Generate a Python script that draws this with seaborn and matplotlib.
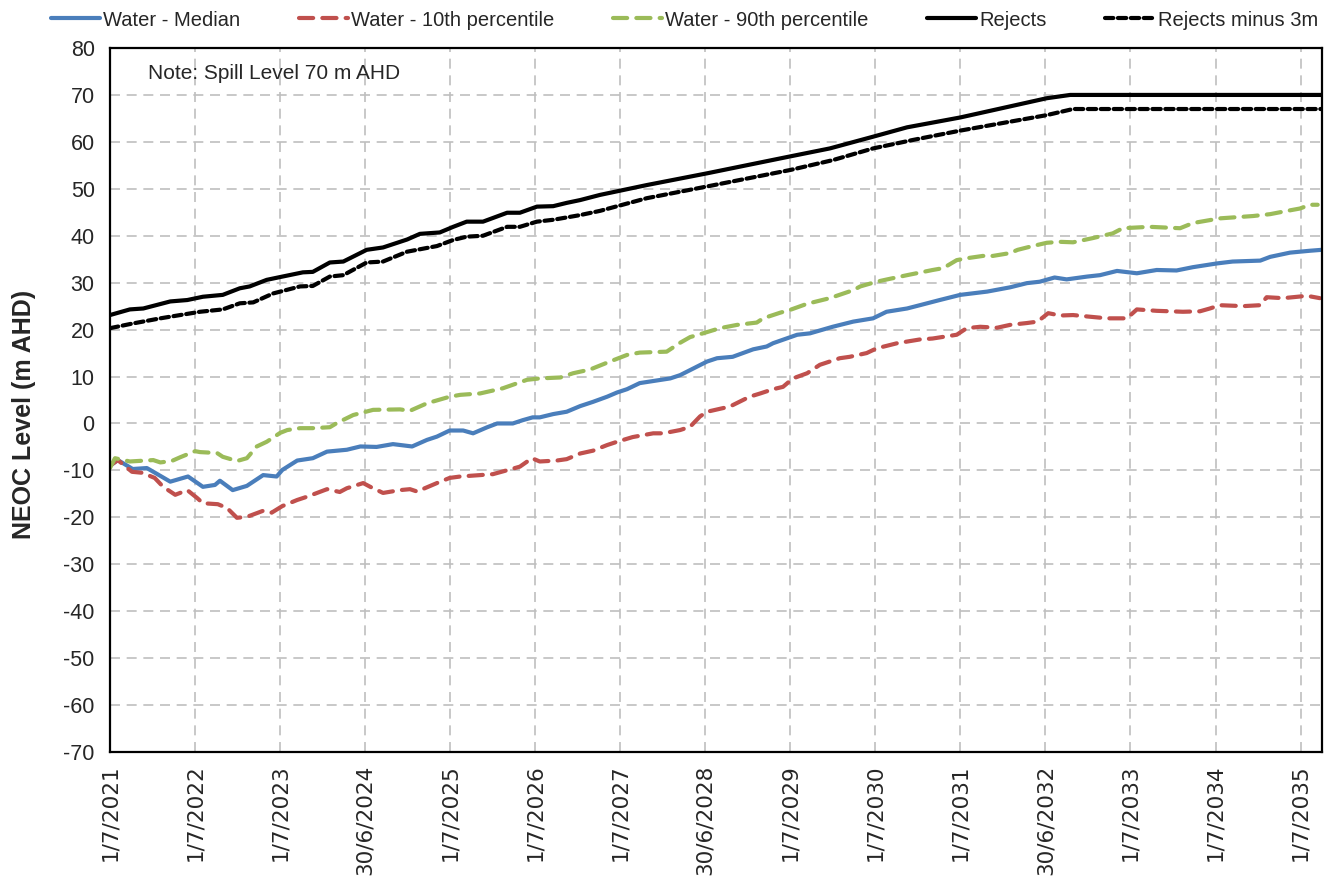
import pandas as pd
import numpy as np
import matplotlib
matplotlib.use('Agg')
import matplotlib.pyplot as plt
import seaborn as sns

# time axis: months after 1/7/2021
start = pd.Timestamp('2021-07-01')
end = pd.Timestamp('2035-09-28')

median_months = [0.0, 1.1, 3.2, 5.2, 8.5, 11.0, 13.1, 14.8, 15.5, 17.3, 19.3, 21.6, 23.5, 24.3,
                 26.4, 28.6, 30.6, 33.4, 35.3, 37.6, 39.9, 42.6, 44.7, 46.1, 47.9, 49.8, 51.2,
                 53.2, 54.6, 56.8, 58.2, 59.6, 60.6, 62.5, 64.4, 66.3, 68.1, 70.1, 71.5, 72.9,
                 74.7, 79.0, 80.4, 84.2, 85.6, 87.8, 90.7, 92.6, 93.5, 96.9, 98.7, 101.9, 104.8,
                 107.6, 109.5, 112.4, 114.2, 117.0, 119.9, 123.7, 126.9, 129.3, 131.1, 133.2,
                 134.9, 137.8, 139.6, 142.0, 144.8, 147.6, 150.4, 152.7, 156.1, 158.3, 162.2,
                 163.6, 166.4, 169.2, 170.9]
median_level = [-9.0, -7.8, -9.7, -9.5, -12.4, -11.3, -13.5, -13.1, -12.2, -14.2, -13.3, -11.0,
                -11.3, -9.9, -7.9, -7.4, -6.0, -5.6, -4.9, -5.0, -4.4, -4.9, -3.5, -2.8, -1.5,
                -1.5, -2.1, -0.8, 0.0, 0.0, 0.7, 1.3, 1.3, 2.0, 2.5, 3.7, 4.6, 5.7, 6.6, 7.3,
                8.6, 9.6, 10.3, 13.2, 13.9, 14.2, 15.8, 16.4, 17.1, 18.9, 19.2, 20.6, 21.7,
                22.4, 23.8, 24.5, 25.2, 26.3, 27.4, 28.1, 29.0, 29.9, 30.2, 31.1, 30.7, 31.3,
                31.6, 32.5, 32.0, 32.7, 32.6, 33.3, 34.1, 34.5, 34.7, 35.5, 36.4, 36.8, 37.0]

p10_months = [0.0, 1.1, 3.1, 4.5, 6.3, 7.5, 9.2, 10.9, 12.3, 13.1, 15.2, 16.5, 17.9, 19.3, 21.6,
              22.8, 24.3, 26.4, 27.8, 30.6, 32.4, 33.4, 35.7, 36.7, 38.5, 40.9, 42.3, 43.3,
              46.1, 47.9, 49.4, 52.2, 54.0, 56.4, 57.8, 59.5, 60.6, 63.0, 64.4, 66.3, 68.1,
              70.1, 71.5, 73.7, 76.6, 78.0, 80.4, 81.8, 83.2, 84.2, 87.4, 90.2, 91.7, 93.5,
              94.9, 96.3, 98.3, 100.1, 102.9, 104.3, 106.7, 108.1, 111.0, 114.2, 116.0, 119.4,
              120.8, 122.7, 125.1, 126.9, 129.3, 130.8, 132.3, 134.0, 135.8, 137.8, 140.6,
              143.4, 144.8, 147.6, 151.3, 153.7, 155.1, 156.5, 159.8, 162.2, 163.1, 165.4,
              166.8, 168.8, 170.6]
p10_level = [-9.0, -7.8, -10.3, -10.5, -11.6, -13.5, -15.2, -14.2, -15.9, -17.0, -17.2, -18.0,
             -20.1, -19.9, -18.6, -19.0, -17.6, -16.3, -15.6, -14.0, -14.6, -13.8, -12.7, -13.5,
             -14.8, -14.2, -14.0, -14.5, -12.7, -11.6, -11.3, -11.0, -10.8, -9.8, -9.2, -7.4,
             -8.1, -7.9, -7.6, -6.4, -5.8, -4.6, -3.9, -2.9, -2.1, -2.1, -1.4, -0.7, 1.5, 2.5,
             3.6, 5.7, 6.4, 7.3, 7.8, 9.6, 10.7, 12.5, 13.9, 14.2, 15.0, 16.0, 17.1, 17.9,
             18.1, 18.9, 20.3, 20.6, 20.4, 21.0, 21.4, 21.7, 23.5, 23.0, 23.1, 22.8, 22.4,
             22.4, 24.3, 24.0, 23.8, 23.9, 24.5, 25.2, 25.0, 25.2, 26.9, 26.7, 26.9, 27.2, 26.7]

p90_months = [0.0, 0.7, 2.8, 3.9, 6.1, 7.1, 8.7, 9.9, 12.0, 12.7, 15.1, 15.9, 17.9, 19.3, 20.7,
              22.1, 24.0, 25.0, 26.8, 28.6, 31.0, 32.0, 34.3, 37.1, 40.9, 42.3, 44.7, 47.9,
              49.4, 52.2, 55.4, 58.8, 60.6, 63.5, 65.3, 67.7, 70.5, 72.9, 74.7, 78.5, 80.4,
              81.8, 83.6, 86.0, 88.4, 91.2, 92.1, 94.5, 95.9, 98.3, 101.5, 104.8, 105.8, 108.1,
              109.6, 112.4, 116.0, 117.5, 119.4, 120.8, 123.1, 124.5, 126.9, 128.0, 130.1,
              132.1, 134.0, 135.8, 138.6, 141.4, 142.8, 146.6, 150.9, 152.7, 156.5, 161.2,
              163.6, 166.0, 167.8, 169.2, 170.3]
p90_level = [-9.5, -7.4, -8.1, -8.0, -7.8, -8.3, -8.0, -7.2, -5.9, -6.1, -6.3, -7.1, -8.0, -7.4,
             -4.9, -3.9, -2.0, -1.4, -1.0, -1.0, -0.8, 0.1, 1.8, 2.9, 3.0, 2.7, 4.3, 5.7, 6.1,
             6.4, 7.5, 9.3, 9.6, 9.8, 10.7, 11.5, 13.2, 14.6, 15.1, 15.3, 17.2, 18.4, 19.2,
             20.3, 21.0, 21.5, 22.4, 23.6, 24.2, 25.5, 26.7, 28.4, 29.2, 30.2, 30.7, 31.6,
             32.7, 33.1, 34.8, 35.2, 35.7, 35.7, 36.3, 37.0, 37.8, 38.5, 38.7, 38.6, 39.5,
             40.5, 41.6, 41.9, 41.6, 42.7, 43.7, 44.2, 44.6, 45.3, 45.8, 46.6, 46.6]

rejects_months = [0.0, 2.8, 4.7, 8.5, 10.9, 13.1, 15.9, 18.3, 19.7, 22.1, 24.0, 27.2, 28.6, 31.0,
                  32.9, 36.2, 38.5, 41.9, 43.7, 46.5, 48.4, 50.3, 52.6, 56.0, 57.8, 60.2, 62.5,
                  64.4, 66.3, 69.1, 75.7, 84.2, 95.9, 101.5, 107.6, 112.4, 119.9, 132.1, 135.4,
                  170.9]
rejects_level = [23.1, 24.3, 24.5, 26.0, 26.3, 27.0, 27.4, 28.8, 29.2, 30.6, 31.2, 32.2, 32.3,
                 34.3, 34.5, 37.0, 37.5, 39.2, 40.4, 40.7, 41.9, 43.0, 43.0, 44.9, 44.9, 46.2,
                 46.3, 47.0, 47.6, 48.7, 50.8, 53.3, 56.9, 58.6, 61.1, 63.1, 65.2, 69.3, 70.0,
                 70.0]

rejects3_months = [0.0, 3.2, 7.1, 9.9, 12.7, 15.9, 18.3, 20.2, 23.0, 26.8, 28.6, 31.0, 32.9, 36.2,
                   38.5, 41.9, 46.1, 48.4, 50.3, 52.6, 56.0, 57.8, 60.2, 62.5, 66.3, 69.1, 75.7,
                   84.2, 95.9, 101.9, 107.6, 113.2, 119.9, 132.1, 135.8, 170.9]
rejects3_level = [20.3, 21.3, 22.4, 23.1, 23.8, 24.3, 25.6, 25.8, 27.7, 29.2, 29.3, 31.3, 31.6,
                  34.3, 34.5, 36.6, 37.8, 39.1, 39.8, 40.0, 41.9, 41.9, 43.0, 43.4, 44.4, 45.3,
                  48.0, 50.5, 54.0, 56.1, 58.6, 60.4, 62.4, 65.7, 67.0, 67.0]

tick_labels = ['1/7/2021', '1/7/2022', '1/7/2023', '30/6/2024', '1/7/2025', '1/7/2026',
               '1/7/2027', '30/6/2028', '1/7/2029', '1/7/2030', '1/7/2031', '30/6/2032',
               '1/7/2033', '1/7/2034', '1/7/2035']

series = [
    ('Water - Median', median_months, median_level, '#4A7EBB', '-'),
    ('Water - 10th percentile', p10_months, p10_level, '#C0504D', (0, (3.4, 2.2))),
    ('Water - 90th percentile', p90_months, p90_level, '#9BBB59', (0, (3.4, 2.2))),
    ('Rejects', rejects_months, rejects_level, 'black', '-'),
    ('Rejects minus 3m', rejects3_months, rejects3_level, 'black', (0, (2.0, 1.1))),
]


def to_dates(months):
    return start + pd.to_timedelta(np.array(months) * 365.25 / 12, unit='D')


sns.set_theme(style='white')
plt.rcParams['font.family'] = ['Liberation Sans', 'DejaVu Sans']
plt.rcParams['axes.unicode_minus'] = False

fig = plt.figure(figsize=(13.28, 8.83), dpi=100)
ax = fig.add_axes([110 / 1328, 1 - 752 / 883, 1212 / 1328, 704 / 883])

for name, months, level, color, ls in series:
    df = pd.DataFrame({'date': to_dates(months), 'level': level})
    sns.lineplot(data=df, x='date', y='level', ax=ax, color=color, linestyle=ls,
                 linewidth=3, label=name, legend=False, dash_capstyle='round')

if ax.get_legend() is not None:
    ax.get_legend().remove()

# axes and grid
ax.set_xlim(start, end)
ax.set_ylim(-70, 80)
ax.set_yticks(np.arange(-70, 81, 10))
ticks = [start + pd.Timedelta(days=365 * k) for k in range(len(tick_labels))]
ax.set_xticks(ticks)
ax.set_xticklabels(tick_labels, rotation=90, fontsize=15.5, family='DejaVu Sans')
ax.tick_params(axis='y', labelsize=15.5, pad=4)
ax.tick_params(axis='x', pad=2)
ax.tick_params(direction='out', length=7, width=1.5, color='black')
ax.grid(True, color='#BFBFBF', linestyle=(0, (6, 4)), linewidth=1.2)
for sp in ax.spines.values():
    sp.set_color('black')
    sp.set_linewidth(1.6)

ax.set_xlabel('')
ax.set_ylabel('NEOC Level (m AHD)', fontsize=18, fontweight='bold')
ax.yaxis.set_label_coords(-0.061, 0.479)

ax.text(0.031, 0.964, 'Note: Spill Level 70 m AHD', transform=ax.transAxes,
        fontsize=15, va='center', ha='left')

handles, labels = ax.get_legend_handles_labels()
fig.legend(handles, labels, loc='center left', bbox_to_anchor=(51 / 1328, 1 - 20 / 883),
           ncol=5, frameon=False, fontsize=14.5, handlelength=2.45, handletextpad=0.15,
           columnspacing=2.9, borderpad=0, borderaxespad=0)

fig.savefig('out.png', dpi=100)
